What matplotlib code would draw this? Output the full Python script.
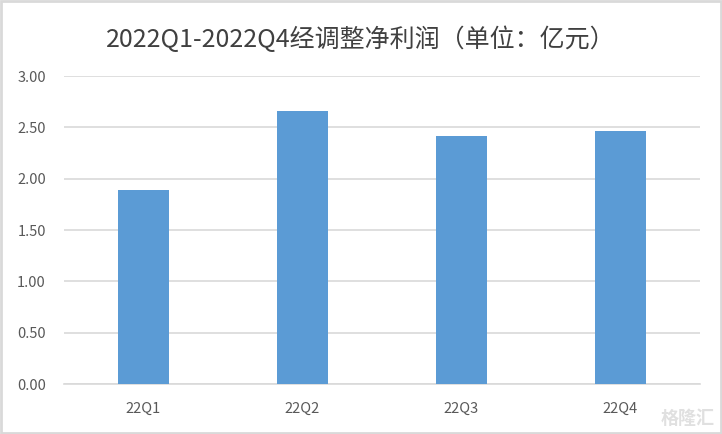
import matplotlib.pyplot as plt
from matplotlib.patches import Rectangle

plt.rcParams['font.family'] = ['Noto Sans CJK SC', 'DejaVu Sans']

quarters = ['22Q1', '22Q2', '22Q3', '22Q4']
profit = [1.89, 2.66, 2.42, 2.46]
yticks = [0, 0.5, 1.0, 1.5, 2.0, 2.5, 3.0]

fig = plt.figure(figsize=(7.22, 4.34), dpi=100)
ax = fig.add_axes([64 / 722, 1 - 384 / 434, 636 / 722, 308 / 434])

ax.bar(range(len(quarters)), profit, width=0.315, color='#5b9bd5', zorder=3)

ax.set_xlim(-0.5, len(quarters) - 0.5)
ax.set_ylim(0, 3.0)
ax.set_yticks(yticks)
ax.set_yticklabels(['%.2f' % v for v in yticks])
ax.set_xticks(range(len(quarters)))
ax.set_xticklabels(quarters)
ax.grid(axis='y', color='#d9d9d9', lw=1.2, zorder=0)
for s in ['top', 'right', 'left']:
    ax.spines[s].set_visible(False)
ax.spines['bottom'].set_color('#d9d9d9')
ax.spines['bottom'].set_linewidth(1.2)
ax.tick_params(axis='both', length=0, colors='#595959', labelsize=10.5)
ax.tick_params(axis='x', pad=13)
ax.tick_params(axis='y', pad=13)

fig.text(0.5, 1 - 40 / 434, '2022Q1-2022Q4经调整净利润（单位：亿元）',
         ha='center', va='center', fontsize=18, color='#404040')
fig.text(0.99, 0.035, '格隆汇', ha='right', va='center', fontsize=13,
         color='#e0e0e0', fontweight='bold')

fig.patches.append(Rectangle((0.002, 0.003), 0.996, 0.994, transform=fig.transFigure,
                             fill=False, edgecolor='#d9d9d9', lw=2))

fig.savefig('out.png', dpi=100)
